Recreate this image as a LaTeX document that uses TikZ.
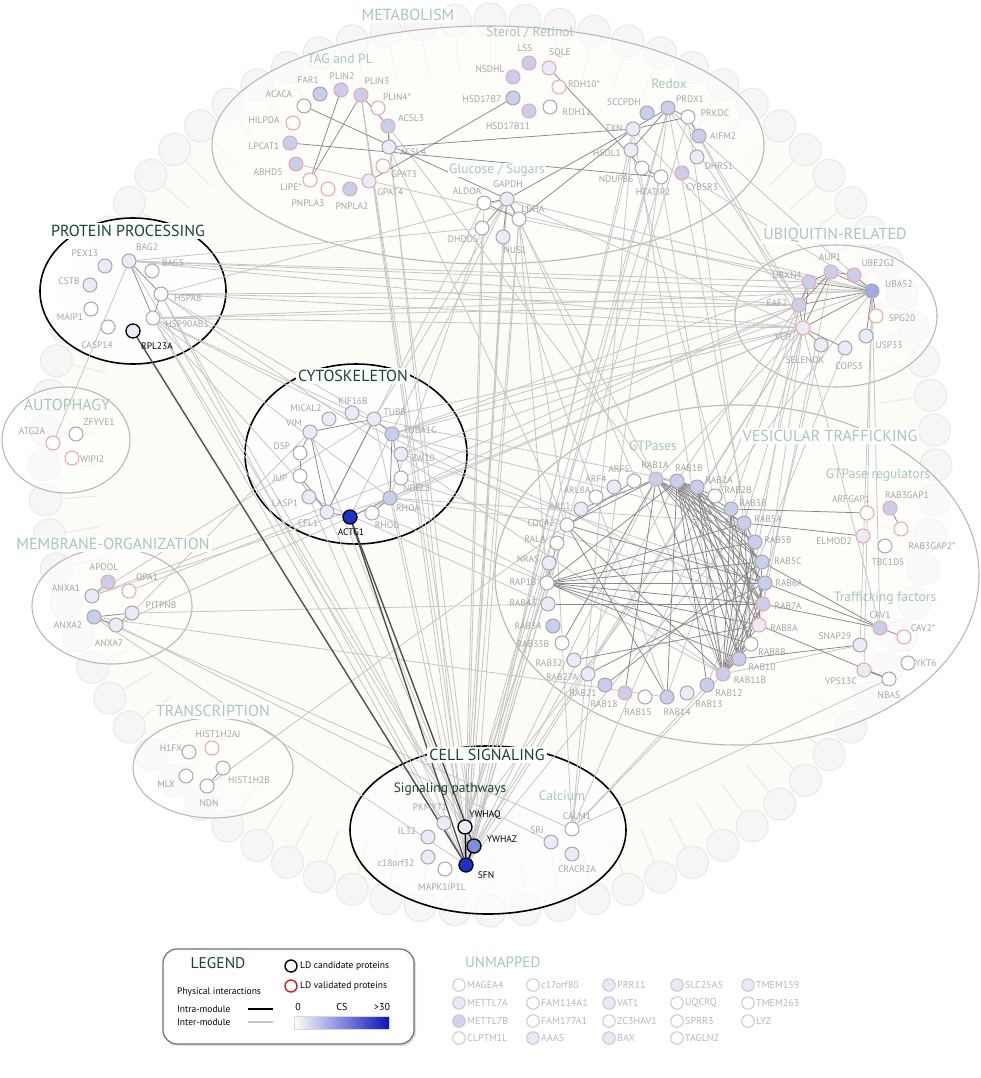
\documentclass[tikz,border=0pt]{standalone}
\usepackage{fontspec}
\setmainfont{PT Sans}
\usetikzlibrary{shadows}
\pgfdeclarelayer{bg}
\pgfdeclarelayer{edges}
\pgfsetlayers{bg,edges,main}
\definecolor{paleg}{RGB}{165,200,185}
\definecolor{darkg}{RGB}{18,72,40}
\definecolor{labg}{RGB}{165,165,165}
\definecolor{ngrey}{RGB}{168,168,168}
\definecolor{nred}{RGB}{242,165,165}
\definecolor{bL}{RGB}{233,236,248}
\definecolor{bM}{RGB}{200,206,238}
\definecolor{bD}{RGB}{160,172,228}
\definecolor{bS}{RGB}{25,50,205}
\definecolor{bZ}{RGB}{125,142,222}
\definecolor{cream}{RGB}{252,251,245}
\definecolor{ringf}{RGB}{246,246,246}
\definecolor{ringd}{RGB}{233,233,233}
\definecolor{einter}{RGB}{198,198,198}
\definecolor{eintra}{RGB}{135,135,135}
\definecolor{modline}{RGB}{185,185,185}
\definecolor{csblue}{RGB}{10,20,190}
\definecolor{legred}{RGB}{210,30,30}
\definecolor{barline}{RGB}{215,215,215}
\definecolor{unline}{RGB}{200,200,200}
\definecolor{unfill}{RGB}{230,233,247}
\definecolor{unred}{RGB}{240,180,180}
\definecolor{unredf}{RGB}{205,211,240}
\definecolor{untext}{RGB}{185,185,185}
\definecolor{legbord}{RGB}{110,110,110}
\definecolor{hilc}{RGB}{80,80,80}
\newcommand\protn[8]{\node[#1] (#2) at (#3,#4) {}; \node[#5] (#2-l) at (#7,#8) {#6};}
\newcommand\unmp[5]{\node[#1] (#2) at (#3,#4) {}; \node[unlab] (#2-l) at (#3+8,#4) {#5};}
\tikzset{
  pn/.style={circle, minimum size=14pt, inner sep=0pt, line width=1pt},
  gO/.style={pn, draw=ngrey, fill=white},
  gL/.style={pn, draw=ngrey, fill=bL},
  gB/.style={pn, draw=ngrey, fill=bM},
  gD/.style={pn, draw=ngrey, fill=bD},
  rO/.style={pn, draw=nred, fill=white},
  rL/.style={pn, draw=nred, fill=bL},
  rB/.style={pn, draw=nred, fill=bM},
  kL/.style={pn, draw=black, line width=1.3pt, fill=bL},
  kZ/.style={pn, draw=black, line width=1.3pt, fill=bZ},
  kS/.style={pn, draw=black, line width=1.3pt, fill=bS},
  lab/.style={text=labg, font=\fontsize{9.5}{10}\selectfont, inner sep=0pt},
  labk/.style={text=black, font=\fontsize{9.5}{10}\selectfont, inner sep=0pt},
  modt/.style={text=paleg, font=\fontsize{16}{18}\selectfont, fill=white, inner sep=2pt},
  modk/.style={text=darkg, font=\fontsize{16}{18}\selectfont, fill=white, inner sep=2pt},
  subt/.style={text=paleg, font=\fontsize{13.5}{15}\selectfont, inner sep=1pt},
  modg/.style={draw=modline, line width=1.1pt, fill=white, fill opacity=0.55},
  modb/.style={draw=black, line width=1.6pt, fill=white, fill opacity=0.9},
  inter/.style={draw=einter, line width=0.8pt},
  intra/.style={draw=eintra, line width=0.75pt},
  hil/.style={draw=hilc, line width=1.4pt},
  blk/.style={draw=black, line width=1.4pt},
  ringc/.style={draw=ringd, fill=ringf, line width=1pt},
  ringstem/.style={draw=ringd, line width=1pt},
  uO/.style={circle, minimum size=12.5pt, inner sep=0pt, draw=unline, line width=1pt, fill=white},
  uL/.style={uO, fill=unfill},
  uR/.style={uO, draw=unred, fill=unredf},
  unlab/.style={anchor=west, text=untext, font=\fontsize{10}{11}\selectfont, inner sep=0pt},
  legtx/.style={anchor=west, text=black, font=\fontsize{9.5}{10}\selectfont, inner sep=0pt}
}
\begin{document}
\begin{tikzpicture}[x=1pt,y=-1pt]
\useasboundingbox (0,0) rectangle (980,1078);
\begin{pgfonlayer}{bg}
\fill[white] (0,0) rectangle (980,1078);
\fill[cream] (490,465) circle[radius=446pt];
\begin{scope}[shift={(490,465)}]
\foreach \a in {0,4.5,...,357} {
  \draw[ringstem] (\a:395) -- (\a:430);
  \draw[ringc] (\a:446) circle[radius=16pt];
}
\end{scope}
\draw[modg] (488,145) ellipse [x radius=276pt, y radius=119pt];
\draw[modg] (66,440) ellipse [x radius=64pt, y radius=53pt];
\draw[modg] (836,316) ellipse [x radius=101pt, y radius=71pt];
\draw[modg] (737,575) ellipse [x radius=242pt, y radius=170pt];
\draw[modg] (112,606) ellipse [x radius=80pt, y radius=58pt];
\draw[modg] (213,768) ellipse [x radius=80pt, y radius=50pt];
\draw[modb] (133,291) ellipse [x radius=93pt, y radius=73pt];
\draw[modb] (356,454) ellipse [x radius=111pt, y radius=90pt];
\draw[modb, fill opacity=0.6] (488,830) ellipse [x radius=138pt, y radius=84pt];
\end{pgfonlayer}

% ---------- METABOLISM
\protn{gB}{FAR1}{320}{94}{lab}{FAR1}{308}{80}
\protn{rB}{PLIN2}{341}{90}{lab}{PLIN2}{342}{76}
\protn{rB}{PLIN3}{361}{95}{lab}{PLIN3}{377}{81}
\protn{rO}{PLIN4}{378}{108}{lab}{PLIN4*}{397}{97}
\protn{gO}{ACACA}{304}{106}{lab}{ACACA}{279}{94}
\protn{rO}{HILPDA}{293}{123}{lab}{HILPDA}{264}{120}
\protn{rB}{ACSL3}{388}{126}{lab}{ACSL3}{411}{118}
\protn{gL}{ACSL4}{389}{147}{lab}{ACSL4}{413}{152}
\protn{rB}{LPCAT1}{290}{143}{lab}{LPCAT1}{264}{146}
\protn{rB}{ABHD5}{296}{164}{lab}{ABHD5}{268}{172}
\protn{rO}{GPAT3}{383}{166}{lab}{GPAT3}{404}{174}
\protn{rO}{LIPE}{310}{180}{lab}{LIPE*}{291}{187}
\protn{rO}{PNPLA3}{328}{189}{lab}{PNPLA3}{308}{203}
\protn{rB}{PNPLA2}{350}{189}{lab}{PNPLA2}{352}{206}
\protn{rL}{GPAT4}{369}{181}{lab}{GPAT4}{390}{192}
\protn{rB}{NSDHL}{513}{77}{lab}{NSDHL}{490}{69}
\protn{rB}{LSS}{529}{63}{lab}{LSS}{525}{48}
\protn{rL}{SQLE}{549}{68}{lab}{SQLE}{560}{53}
\protn{gB}{HSD17B7}{513}{98}{lab}{HSD17B7}{482}{99}
\protn{rB}{HSD17B11}{529}{111}{lab}{HSD17B11}{508}{126}
\protn{rO}{RDH10}{559}{87}{lab}{RDH10*}{584}{84}
\protn{gO}{RDH11}{550}{107}{lab}{RDH11}{577}{112}
\protn{gO}{ALDOA}{484}{203}{lab}{ALDOA}{467}{191}
\protn{gL}{GAPDH}{507}{199}{lab}{GAPDH}{508}{184}
\protn{gO}{LDHA}{519}{219}{lab}{LDHA}{533}{209}
\protn{gO}{DHDDS}{482}{228}{lab}{DHDDS}{463}{239}
\protn{gL}{NUS1}{503}{237}{lab}{NUS1}{515}{250}
\protn{gB}{SCCPDH}{647}{113}{lab}{SCCPDH}{624}{102}
\protn{gB}{PRDX1}{668}{108}{lab}{PRDX1}{690}{99}
\protn{gO}{PRKDC}{688}{117}{lab}{PRKDC}{715}{113}
\protn{gL}{TXN}{633}{129}{lab}{TXN}{614}{128}
\protn{gB}{AIFM2}{699}{136}{lab}{AIFM2}{723}{136}
\protn{gL}{HSDL1}{631}{150}{lab}{HSDL1}{607}{153}
\protn{gL}{DHRS1}{697}{157}{lab}{DHRS1}{719}{166}
\protn{gO}{NDUFB6}{642}{168}{lab}{NDUFB6}{616}{179}
\protn{gO}{HTATIP2}{661}{177}{lab}{HTATIP2}{653}{192}
\protn{rB}{CYB5R3}{682}{173}{lab}{CYB5R3}{702}{187}
% ---------- PROTEIN PROCESSING
\protn{gL}{PEX13}{105}{266}{lab}{PEX13}{85}{253}
\protn{gL}{BAG2}{129}{261}{lab}{BAG2}{147}{247}
\protn{gO}{BAG5}{152}{271}{lab}{BAG5}{173}{263}
\protn{gL}{CSTB}{90}{285}{lab}{CSTB}{69}{281}
\protn{gO}{HSPA8}{161}{294}{lab}{HSPA8}{188}{298}
\protn{gO}{MAIP1}{91}{309}{lab}{MAIP1}{70}{317}
\protn{gO}{HSP90AB1}{153}{318}{lab}{HSP90AB1}{187}{324}
\protn{gO}{CASP14}{108}{327}{lab}{CASP14}{97}{345}
\protn{kL}{RPL23A}{133}{331}{labk}{RPL23A}{157}{346}
% ---------- AUTOPHAGY
\protn{rO}{ATG2A}{53}{443}{lab}{ATG2A}{32}{431}
\protn{gO}{ZFYVE1}{76}{434}{lab}{ZFYVE1}{99}{422}
\protn{rO}{WIPI2}{72}{458}{lab}{WIPI2}{92}{459}
% ---------- CYTOSKELETON
\protn{gL}{MICAL2}{329}{419}{lab}{MICAL2}{306}{408}
\protn{gL}{KIF16B}{352}{413}{lab}{KIF16B}{353}{401}
\protn{gL}{TUBB}{374}{419}{lab}{TUBB}{395}{412}
\protn{gL}{VIM}{310}{432}{lab}{VIM}{294}{423}
\protn{gB}{TUBA1C}{392}{434}{lab}{TUBA1C}{420}{430}
\protn{gO}{DSP}{300}{453}{lab}{DSP}{282}{446}
\protn{gL}{ZW10}{401}{454}{lab}{ZW10}{423}{458}
\protn{gO}{JUP}{300}{476}{lab}{JUP}{280}{478}
\protn{gO}{NDEL1}{401}{478}{lab}{NDEL1}{417}{488}
\protn{gL}{LASP1}{309}{497}{lab}{LASP1}{285}{503}
\protn{gB}{RHOA}{390}{498}{lab}{RHOA}{408}{508}
\protn{gL}{CFL1}{327}{512}{lab}{CFL1}{308}{523}
\protn{kS}{ACTG1}{350}{517}{labk}{ACTG1}{351}{532}
\protn{gO}{RHOG}{372}{513}{lab}{RHOG}{387}{525}
% ---------- UBIQUITIN
\protn{rB}{AUP1}{831}{272}{lab}{AUP1}{830}{257}
\protn{rB}{UBE2G2}{854}{275}{lab}{UBE2G2}{878}{263}
\protn{rB}{UBXN4}{809}{282}{lab}{UBXN4}{787}{275}
\protn{gD}{UBA52}{872}{291}{lab}{UBA52}{899}{284}
\protn{rB}{FAF2}{799}{305}{lab}{FAF2}{777}{303}
\protn{rO}{SPG20}{876}{316}{lab}{SPG20}{902}{318}
\protn{rL}{VCP}{803}{328}{lab}{VCP}{783}{337}
\protn{gL}{USP33}{866}{336}{lab}{USP33}{889}{345}
\protn{gL}{SELENOK}{821}{345}{lab}{SELENOK}{805}{360}
\protn{gL}{COPS3}{845}{348}{lab}{COPS3}{849}{366}
% ---------- GTPases
\protn{gO}{ARF5}{634}{481}{lab}{ARF5}{619}{469}
\protn{rB}{RAB1A}{656}{479}{lab}{RAB1A}{655}{465}
\protn{gB}{RAB1B}{677}{481}{lab}{RAB1B}{689}{468}
\protn{gB}{RAB2A}{697}{487}{lab}{RAB2A}{719}{480}
\protn{gL}{ARF4}{614}{487}{lab}{ARF4}{596}{479}
\protn{gO}{RAB2B}{715}{496}{lab}{RAB2B}{738}{490}
\protn{gO}{ARL8A}{596}{497}{lab}{ARL8A}{577}{490}
\protn{gB}{RAB3B}{731}{509}{lab}{RAB3B}{753}{503}
\protn{gL}{ARL1}{581}{509}{lab}{ARL1}{560}{506}
\protn{gB}{RAB5A}{744}{523}{lab}{RAB5A}{768}{519}
\protn{gO}{CDC42}{567}{525}{lab}{CDC42}{541}{523}
\protn{gB}{RAB5B}{755}{542}{lab}{RAB5B}{778}{540}
\protn{gO}{RALA}{557}{543}{lab}{RALA}{535}{539}
\protn{gB}{RAB5C}{762}{562}{lab}{RAB5C}{788}{561}
\protn{gL}{NRAS}{549}{563}{lab}{NRAS}{528}{559}
\protn{gB}{RAB6A}{765}{583}{lab}{RAB6A}{789}{583}
\protn{gO}{RAP1B}{547}{583}{lab}{RAP1B}{523}{582}
\protn{rB}{RAB7A}{763}{604}{lab}{RAB7A}{788}{606}
\protn{gL}{RAB43}{548}{604}{lab}{RAB43}{523}{603}
\protn{rL}{RAB8A}{759}{625}{lab}{RAB8A}{784}{628}
\protn{gB}{RAB34}{553}{626}{lab}{RAB34}{528}{626}
\protn{gO}{RAB8B}{751}{644}{lab}{RAB8B}{772}{652}
\protn{gO}{RAB33B}{562}{643}{lab}{RAB33B}{533}{644}
\protn{gB}{RAB10}{739}{659}{lab}{RAB10}{762}{667}
\protn{gL}{RAB32}{574}{660}{lab}{RAB32}{549}{663}
\protn{rB}{RAB11B}{723}{674}{lab}{RAB11B}{750}{680}
\protn{gL}{RAB27A}{588}{674}{lab}{RAB27A}{562}{677}
\protn{gB}{RAB12}{707}{685}{lab}{RAB12}{729}{693}
\protn{gB}{RAB21}{605}{685}{lab}{RAB21}{583}{693}
\protn{gL}{RAB13}{687}{693}{lab}{RAB13}{709}{704}
\protn{rB}{RAB18}{625}{693}{lab}{RAB18}{604}{704}
\protn{gB}{RAB14}{667}{697}{lab}{RAB14}{677}{712}
\protn{gO}{RAB15}{645}{697}{lab}{RAB15}{638}{712}
% ---------- VESICULAR right
\protn{rO}{ARFGAP1}{867}{513}{lab}{ARFGAP1}{851}{499}
\protn{rB}{RAB3GAP1}{890}{508}{lab}{RAB3GAP1}{907}{495}
\protn{rO}{RAB3GAP2}{901}{529}{lab}{RAB3GAP2*}{932}{546}
\protn{rL}{ELMOD2}{863}{536}{lab}{ELMOD2}{834}{541}
\protn{gO}{TBC1D5}{885}{546}{lab}{TBC1D5}{888}{562}
\protn{rB}{CAV1}{880}{628}{lab}{CAV1}{880}{615}
\protn{rO}{CAV2}{904}{637}{lab}{CAV2*}{923}{628}
\protn{gL}{SNAP29}{860}{645}{lab}{SNAP29}{835}{636}
\protn{gO}{YKT6}{908}{663}{lab}{YKT6}{926}{663}
\protn{rL}{VPS13C}{864}{670}{lab}{VPS13C}{841}{681}
\protn{gO}{NBAS}{889}{679}{lab}{NBAS}{889}{695}
% ---------- MEMBRANE
\protn{rB}{APOOL}{108}{582}{lab}{APOOL}{104}{567}
\protn{rO}{OPA1}{129}{591}{lab}{OPA1}{147}{577}
\protn{gL}{ANXA1}{92}{596}{lab}{ANXA1}{66}{588}
\protn{gL}{PITPNB}{132}{613}{lab}{PITPNB}{161}{605}
\protn{gB}{ANXA2}{94}{617}{lab}{ANXA2}{68}{625}
\protn{gL}{ANXA7}{116}{625}{lab}{ANXA7}{109}{643}
% ---------- TRANSCRIPTION
\protn{gO}{H1FX}{189}{752}{lab}{H1FX}{171}{748}
\protn{rO}{HIST1H2AJ}{212}{748}{lab}{HIST1H2AJ}{218}{734}
\protn{gO}{MLX}{186}{776}{lab}{MLX}{166}{784}
\protn{gO}{HIST1H2B}{223}{768}{lab}{HIST1H2B}{249}{780}
\protn{gO}{NDN}{207}{786}{lab}{NDN}{209}{803}
% ---------- CELL SIGNALING
\protn{gL}{PKMYT1}{444}{823}{lab}{PKMYT1}{430}{807}
\protn{gL}{IL32}{428}{837}{lab}{IL32}{407}{831}
\protn{gL}{c18orf32}{428}{857}{lab}{c18orf32}{396}{863}
\protn{gO}{MAPK1IP1L}{445}{869}{lab}{MAPK1IP1L}{442}{887}
\protn{kL}{YWHAQ}{465}{827}{labk}{YWHAQ}{485}{815}
\protn{kZ}{YWHAZ}{474}{846}{labk}{YWHAZ}{502}{839}
\protn{kS}{SFN}{466}{865}{labk}{SFN}{486}{875}
\protn{gL}{SRI}{551}{842}{lab}{SRI}{537}{830}
\protn{gO}{CALM1}{572}{829}{lab}{CALM1}{577}{816}
\protn{gL}{CRACR2A}{572}{854}{lab}{CRACR2A}{577}{869}

% ---------- titles
\node[modt] (tMET) at (408,15) {METABOLISM};
\node[subt] (tSTE) at (530,33) {Sterol / Retinol};
\node[subt] (tTAG) at (340,59) {TAG and PL};
\node[subt] (tRED) at (669,84) {Redox};
\node[subt, fill=white] (tGLU) at (497,170) {Glucose / Sugars};
\node[modk] (tPRO) at (128,231) {PROTEIN PROCESSING};
\node[modt, fill=none] (tAUT) at (67,405) {AUTOPHAGY};
\node[modk] (tCYT) at (353,376) {CYTOSKELETON};
\node[modt] (tUBI) at (835,235) {UBIQUITIN-RELATED};
\node[modt] (tVES) at (830,436) {VESICULAR TRAFFICKING};
\node[subt] (tGTP) at (653,446) {GTPases};
\node[subt] (tGRE) at (878,475) {GTPase regulators};
\node[subt] (tTRF) at (885,598) {Trafficking factors};
\node[modt] (tMEM) at (113,544) {MEMBRANE-ORGANIZATION};
\node[modt] (tTRA) at (213,711) {TRANSCRIPTION};
\node[modk] (tCEL) at (487,755) {CELL SIGNALING};
\node[subt, text=darkg] (tSIG) at (450,789) {Signaling pathways};
\node[subt] (tCAL) at (562,796) {Calcium};

% ---------- edges
\begin{pgfonlayer}{edges}
\foreach \a/\b in {BAG2/FAF2, BAG2/VCP, BAG2/UBA52, BAG2/UBXN4, HSPA8/FAF2, HSPA8/VCP, HSPA8/UBA52, HSP90AB1/VCP, HSP90AB1/UBA52, HSP90AB1/FAF2,
 BAG2/ATG2A, HSP90AB1/SFN, HSPA8/YWHAQ, HSP90AB1/YWHAZ, HSPA8/SFN, BAG2/YWHAQ, HSP90AB1/RHOA, HSPA8/TUBB, HSP90AB1/CFL1, BAG2/DHDDS, HSPA8/GAPDH, HSP90AB1/CDC42, HSPA8/RAB11B, HSP90AB1/RAB7A,
 PLIN3/SFN, PLIN3/YWHAQ, PLIN3/YWHAZ, ACSL3/SFN, ACSL4/YWHAZ, ACSL4/CDC42, GAPDH/SFN, GAPDH/YWHAQ, ALDOA/SFN, LDHA/SFN, LDHA/YWHAZ, DHDDS/YWHAQ, NUS1/SFN, PRDX1/YWHAQ, PRDX1/SFN, TXN/YWHAZ, HSDL1/SFN, HTATIP2/YWHAQ, PRKDC/SFN, TXN/CALM1, PRDX1/CALM1,
 GAPDH/VCP, LDHA/UBA52, PRDX1/UBA52, PRKDC/VCP, TXN/FAF2, AIFM2/FAF2, CYB5R3/UBA52, ABHD5/UBXN4, GAPDH/UBA52, PRDX1/FAF2,
 GAPDH/RAB1A, LDHA/RAP1B, LDHA/RAB11B, PRDX1/RAB7A, TXN/RAB11B, HTATIP2/RAB10, PRKDC/RAB5A, GAPDH/TUBB, ALDOA/CFL1, DHDDS/RHOA, NUS1/RAB14, LDHA/CDC42, GAPDH/ACTG1, ACSL3/RAB1A, HSDL1/RAB8A,
 TUBB/VCP, TUBA1C/VCP, TUBA1C/FAF2, RHOA/VCP, NDEL1/FAF2, ZW10/UBA52,
 RHOA/CDC42, RHOA/RAB5A, NDEL1/RAB7A, RHOG/RAP1B, TUBB/RAB1B, TUBA1C/RAB5A, RHOA/RAB11B, ZW10/RAB6A, LASP1/RAB43,
 TUBB/YWHAQ, VIM/YWHAQ, CFL1/YWHAZ, RHOA/SFN, JUP/SFN,
 ANXA1/RHOA, ANXA1/TUBB, OPA1/CFL1, ANXA2/RAB14, ANXA2/CALM1, ANXA7/SRI, PITPNB/RAB43, ANXA2/SFN, ANXA7/ACTG1, PITPNB/VIM, ANXA1/NDEL1,
 NDN/CDC42,
 VCP/RAB1A, VCP/RAB7A, VCP/RAB11B, VCP/RAB5A, FAF2/RAB1B, FAF2/RAB10, VCP/CAV1, UBA52/CAV1, UBA52/VPS13C, UBA52/SNAP29, VCP/SFN, VCP/YWHAZ, UBA52/YWHAQ, FAF2/CALM1, UBXN4/RAB14, AUP1/RAB8A, COPS3/RAB12, SELENOK/RAB6A, VCP/ACTG1, FAF2/RHOA, UBXN4/TUBA1C,
 CDC42/SFN, RAP1B/YWHAQ, RAB1A/YWHAZ, RALA/CALM1, RAB11B/CALM1, RAB12/CALM1, CDC42/YWHAQ, RAB5A/SFN, NRAS/YWHAZ, RAB1B/SFN,
 NBAS/CALM1, SNAP29/RAB11B}
  \draw[inter] (\a) -- (\b);
\foreach \a/\b in {PLIN2/LIPE, PLIN3/LIPE, PLIN3/ACSL3, ACSL3/ACSL4, HSD17B7/GPAT4, ACACA/GAPDH, LPCAT1/HTATIP2, SQLE/NDUFB6, PRDX1/TXN, PRDX1/PRKDC, TXN/PRKDC, PRDX1/HSDL1, PRKDC/AIFM2, NDUFB6/HTATIP2, ALDOA/GAPDH, GAPDH/LDHA, GAPDH/DHDDS, GAPDH/NUS1, ALDOA/LDHA, GAPDH/TXN, LDHA/TXN, ACSL4/TXN,
 BAG2/HSPA8, BAG2/HSP90AB1, HSPA8/HSP90AB1,
 VIM/TUBB, TUBB/TUBA1C, VIM/DSP, DSP/JUP, JUP/CFL1, VIM/CFL1, TUBB/CFL1, CFL1/ACTG1, RHOG/RHOA, RHOA/TUBA1C, NDEL1/TUBA1C, ACTG1/RHOA,
 AUP1/UBXN4, AUP1/UBE2G2, UBE2G2/UBA52, AUP1/FAF2, UBXN4/FAF2, FAF2/UBA52, FAF2/VCP, VCP/UBA52, VCP/SELENOK, VCP/COPS3, UBA52/SPG20, UBA52/USP33, UBXN4/VCP, AUP1/VCP, UBXN4/UBA52, AUP1/UBA52,
 RAB1B/RAB2A, RAB1B/RAB2B, RAB1B/RAB3B, RAB1B/RAB5A, RAB1B/RAB5B, RAB1B/RAB5C, RAB1B/RAB6A, RAB1B/RAB7A, RAB1B/RAB8A, RAB1B/RAB8B, RAB1B/RAB10, RAB1B/RAB11B,
 RAB1A/RAB1B, RAB1A/RAB5A, RAB1A/RAB5B, RAB1A/RAB6A, RAB1A/RAB7A, RAB1A/RAB11B, RAB1A/RAB18, RAB1A/RAB33B, RAB1A/RAB5C, RAB1A/ARL1,
 RAB2A/RAB11B, RAB2A/RAB10, RAB2A/RAB8B, RAB2A/RAB7A, RAB2A/RAB5C, RAB3B/RAB11B, RAB3B/RAB10, RAB3B/RAB8A,
 RAB5A/RAB11B, RAB5A/RAB8B, RAB5A/RAB5B, RAB5A/RAB7A, RAB5B/RAB10, RAB5B/RAB11B, RAB5C/RAB11B, RAB5C/RAB8A, RAB6A/RAB11B, RAB6A/RAB10, RAB7A/RAB11B, RAB7A/RAB10, RAB8A/RAB11B, RAB11B/RAB10, RAB8B/RAB11B,
 RAP1B/RAB5A, RAP1B/RAB5B, RAP1B/RAB5C, RAP1B/RAB6A, RAP1B/RAB7A, RAP1B/RAB8A, RAP1B/RAB8B, RAP1B/RAB1B, RAP1B/RAB10,
 CDC42/RAB14, CDC42/RAB11B, CDC42/ARF5, CDC42/RAB6A, CDC42/RAB1A, RALA/RAP1B, NRAS/RAP1B, RAB43/RAB7A, RAB14/RAB1B, RAB21/RAB5C, RAB32/RAB8A, RAB12/RAB1B, RAB27A/RAB6A,
 RAB3GAP1/RAB3GAP2, CAV1/CAV2, VPS13C/NBAS, CAV1/RAB5C, CAV1/RAB7A, CAV1/RAB6A, NBAS/RAB8A, ELMOD2/RAB5A, ARFGAP1/RAB3B, SNAP29/RAB10,
 APOOL/ANXA1, ANXA2/PITPNB, ANXA2/ANXA7, ANXA7/PITPNB, NDN/HIST1H2B}
  \draw[intra] (\a) -- (\b);
\draw[hil] (RPL23A) -- (SFN);
\draw[hil] (ACTG1) -- (SFN);
\draw[hil] (ACTG1) -- (YWHAZ);
\draw[blk] (YWHAQ) -- (SFN);
\draw[blk] (YWHAZ) -- (SFN);
\end{pgfonlayer}

% ---------- legend
\node[draw=legbord, line width=1.2pt, rounded corners=14pt, minimum width=251pt, minimum height=95pt, fill=white, drop shadow={opacity=0.25, shadow xshift=2pt, shadow yshift=-2pt}] (legbox) at (288.5,996.5) {};
\node[text=darkg, font=\fontsize{15.5}{17}\selectfont, inner sep=0pt] (legt) at (218,963) {LEGEND};
\node[circle, draw=black, line width=1.4pt, minimum size=12pt, inner sep=0pt] (legc1) at (291,966) {};
\node[legtx] (legc1t) at (300,966) {LD candidate proteins};
\node[circle, draw=legred, line width=1.4pt, minimum size=12pt, inner sep=0pt] (legc2) at (291,986) {};
\node[legtx] (legc2t) at (300,986) {LD validated proteins};
\node[legtx] (legp) at (177,992) {Physical interactions};
\node[legtx] (legi) at (177,1009) {Intra-module};
\node[legtx] (lege) at (177,1022) {Inter-module};
\coordinate (li1) at (248,1009); \coordinate (li2) at (273,1009);
\draw[black, line width=1.4pt] (li1) -- (li2);
\coordinate (le1) at (248,1022); \coordinate (le2) at (273,1022);
\draw[einter, line width=1.2pt] (le1) -- (le2);
\node[font=\fontsize{10}{11}\selectfont, inner sep=0pt] (cs0) at (298,1007) {0};
\node[font=\fontsize{10}{11}\selectfont, inner sep=0pt] (csl) at (342,1007) {CS};
\node[font=\fontsize{10}{11}\selectfont, inner sep=0pt] (cs30) at (382,1007) {>30};
\shade[left color=white, right color=csblue] (294,1016) rectangle (389,1029);
\draw[draw=barline, line width=0.5pt] (294,1016) rectangle (389,1029);

% ---------- unmapped
\node[modt, fill=none, font=\fontsize{15}{17}\selectfont, anchor=west, inner sep=0pt] (tUNM) at (465,962) {UNMAPPED};
\unmp{uO}{MAGEA4}{459}{985}{MAGEA4}
\unmp{uL}{METTL7A}{459}{1003}{METTL7A}
\unmp{uR}{METTL7B}{459}{1021}{METTL7B}
\unmp{uO}{CLPTM1L}{459}{1038}{CLPTM1L}
\unmp{uO}{c17orf80}{533}{985}{c17orf80}
\unmp{uO}{FAM114A1}{533}{1003}{FAM114A1}
\unmp{uO}{FAM177A1}{533}{1021}{FAM177A1}
\unmp{uL}{AAAS}{533}{1038}{AAAS}
\unmp{uL}{PRR11}{609}{985}{PRR11}
\unmp{uL}{VAT1}{609}{1003}{VAT1}
\unmp{uO}{ZC3HAV1}{609}{1021}{ZC3HAV1}
\unmp{uL}{BAX}{609}{1038}{BAX}
\unmp{uL}{SLC25A5}{677}{985}{SLC25A5}
\unmp{uO}{UQCRQ}{677}{1003}{UQCRQ}
\unmp{uO}{SPRR3}{677}{1021}{SPRR3}
\unmp{uO}{TAGLN2}{677}{1038}{TAGLN2}
\unmp{uL}{TMEM159}{748}{985}{TMEM159}
\unmp{uO}{TMEM263}{748}{1003}{TMEM263}
\unmp{uO}{LYZ}{748}{1021}{LYZ}
\end{tikzpicture}
\end{document}
